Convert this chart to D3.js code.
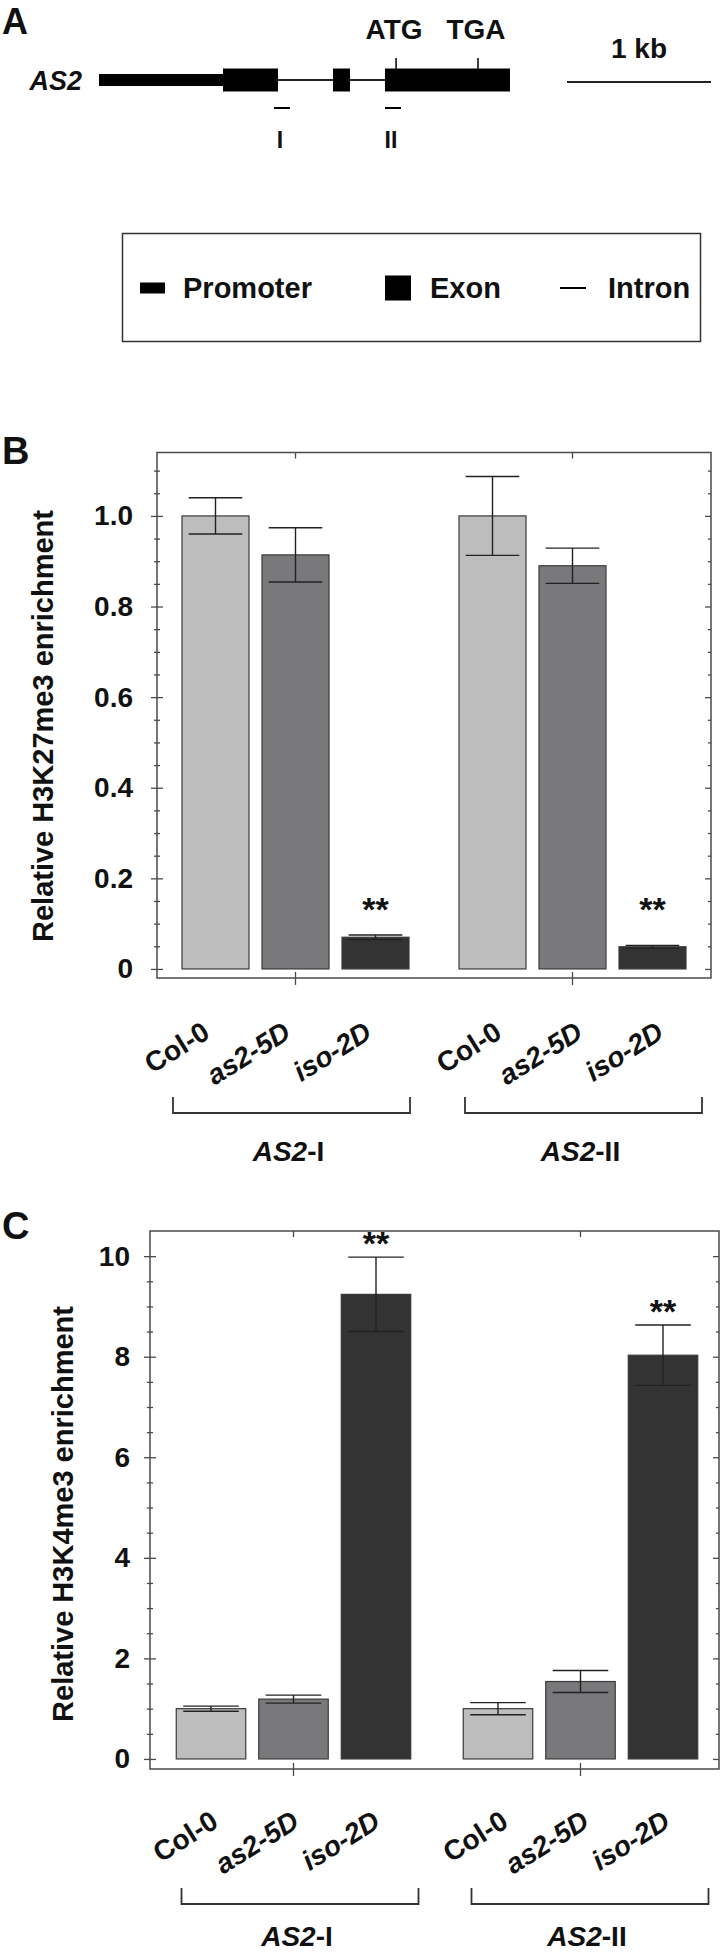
<!DOCTYPE html>
<html><head><meta charset="utf-8">
<script src="https://cdn.jsdelivr.net/npm/d3@7"></script>
<style>
html,body{margin:0;padding:0;background:#fff;}
svg{display:block;font-family:"Liberation Sans",Arial,sans-serif;}
</style></head><body>
<svg id="c" width="720" height="1953"></svg>
<script>
// ---------- data ----------
const genotypes = ["Col-0", "as2-5D", "iso-2D"];
const regions = ["I", "II"];                 // AS2-I, AS2-II
const k27Mean = [[1.00, 0.914, 0.070], [1.00, 0.890, 0.049]];
const k27Err  = [[0.040, 0.060, 0.005], [0.087, 0.039, 0.003]];
const k4Mean  = [[1.00, 1.19, 9.24], [1.00, 1.54, 8.03]];
const k4Err   = [[0.05, 0.08, 0.74], [0.12, 0.22, 0.60]];
const signif  = [[false, false, true], [false, false, true]];
const k27Ticks = [0, 0.2, 0.4, 0.6, 0.8, 1.0];
const k4Ticks  = [0, 2, 4, 6, 8, 10];
// gene model, positions in kb
const promoterKb = [[0, 0.861]];
const exonKb     = [[0.861, 1.243], [1.625, 1.743], [1.986, 2.854]];
const intronKb   = [[1.243, 1.625], [1.743, 1.986]];
const codons     = [{label: "ATG", kb: 2.063}, {label: "TGA", kb: 2.632}];
const amplicons  = [{label: "I", start: 1.215, end: 1.326}, {label: "II", start: 1.986, end: 2.097}];
const legendItems = ["Promoter", "Exon", "Intron"];

const fills = ["#bdbdbd", "#79797b", "#333333"];
const svg = d3.select("#c");
const ink = "#111";

// ---------- Panel A ----------
svg.append("text").attr("x", 2).attr("y", 34).attr("font-size", 36).attr("font-weight", "bold").attr("fill", ink).text("A");
const xg = d3.scaleLinear().domain([0, 1]).range([99, 243]);   // 1 kb
const gy = 80;
svg.append("text").attr("x", 82).attr("y", 90).attr("text-anchor", "end")
  .attr("font-size", 27).attr("font-weight", "bold").attr("font-style", "italic").attr("fill", ink).text("AS2");
svg.selectAll(".intron").data(intronKb).enter().append("line")
  .attr("x1", d => xg(d[0])).attr("x2", d => xg(d[1])).attr("y1", gy).attr("y2", gy)
  .attr("stroke", "#222").attr("stroke-width", 2);
svg.selectAll(".prom").data(promoterKb).enter().append("rect")
  .attr("x", d => xg(d[0])).attr("width", d => xg(d[1]) - xg(d[0])).attr("y", gy - 6).attr("height", 12).attr("fill", "#000");
svg.selectAll(".exon").data(exonKb).enter().append("rect")
  .attr("x", d => xg(d[0])).attr("width", d => xg(d[1]) - xg(d[0])).attr("y", gy - 11.5).attr("height", 23).attr("fill", "#000");
const cod = svg.selectAll(".cod").data(codons).enter().append("g");
cod.append("line").attr("x1", d => xg(d.kb)).attr("x2", d => xg(d.kb)).attr("y1", 58).attr("y2", 69).attr("stroke", "#000").attr("stroke-width", 1.5);
cod.append("text").attr("x", d => xg(d.kb) - 2).attr("y", 39).attr("text-anchor", "middle")
  .attr("font-size", 28).attr("font-weight", "bold").attr("fill", ink).text(d => d.label);
const amp = svg.selectAll(".amp").data(amplicons).enter().append("g");
amp.append("line").attr("x1", d => xg(d.start)).attr("x2", d => xg(d.end)).attr("y1", 108).attr("y2", 108).attr("stroke", "#000").attr("stroke-width", 2);
amp.append("text").attr("x", d => (xg(d.start) + xg(d.end)) / 2 - 2).attr("y", 148).attr("text-anchor", "middle")
  .attr("font-size", 23).attr("font-weight", "bold").attr("fill", ink).text(d => d.label);
// scale bar
const xs = d3.scaleLinear().domain([0, 1]).range([567, 711]);
svg.append("line").attr("x1", xs(0)).attr("x2", xs(1)).attr("y1", 82).attr("y2", 82).attr("stroke", "#222").attr("stroke-width", 2);
svg.append("text").attr("x", (xs(0) + xs(1)) / 2).attr("y", 58).attr("text-anchor", "middle")
  .attr("font-size", 28).attr("font-weight", "bold").attr("fill", ink).text("1 kb");

// legend
svg.append("rect").attr("x", 122.5).attr("y", 233.5).attr("width", 578).attr("height", 108)
  .attr("fill", "none").attr("stroke", "#333").attr("stroke-width", 1.5);
const ly = 288;
svg.append("rect").attr("x", 140).attr("y", ly - 5.5).attr("width", 25).attr("height", 11).attr("fill", "#000");
svg.append("rect").attr("x", 385).attr("y", ly - 12.5).attr("width", 26).attr("height", 25).attr("fill", "#000");
svg.append("line").attr("x1", 560).attr("x2", 586).attr("y1", ly).attr("y2", ly).attr("stroke", "#000").attr("stroke-width", 2);
svg.selectAll(".lg").data(legendItems).enter().append("text")
  .attr("x", (d, i) => [183, 430, 608][i]).attr("y", 298)
  .attr("font-size", 29).attr("font-weight", "bold").attr("fill", ink).text(d => d);

// ---------- bar panels ----------
function panel(o) {
  const g = svg.append("g");
  const y = d3.scaleLinear().domain(o.yDomain).range([o.bottom, o.top]);
  const xG = d3.scaleBand().domain(regions).range(o.groupRange);
  const xI = d3.scaleBand().domain(genotypes).range([-o.innerHalf, o.innerHalf]).paddingInner(o.pad).paddingOuter(o.pad / 2);
  const xA = d3.scaleBand().domain(regions).range(o.annRange);
  const xL = d3.scalePoint().domain(genotypes).range([-80, 82]);
  const gc = r => xG(r) + xG.bandwidth() / 2;
  const ac = r => xA(r) + xA.bandwidth() / 2;

  // panel letter
  g.append("text").attr("x", 2).attr("y", o.letterY).attr("font-size", 38).attr("font-weight", "bold").attr("fill", ink).text(o.letter);

  const rows = [];
  regions.forEach((r, gi) => genotypes.forEach((gt, ti) =>
    rows.push({r, gi, gt, ti, m: o.means[gi][ti], e: o.errs[gi][ti], s: signif[gi][ti]})));

  // bars
  g.selectAll(".bar").data(rows).enter().append("rect")
    .attr("x", d => gc(d.r) + xI(d.gt)).attr("width", xI.bandwidth())
    .attr("y", d => y(d.m)).attr("height", d => y(0) - y(d.m))
    .attr("fill", d => fills[d.ti]).attr("stroke", "#3a3a3a").attr("stroke-width", 1.2);

  // error bars
  const cw = xI.bandwidth() * 0.8;
  const eb = g.selectAll(".eb").data(rows).enter().append("g").attr("stroke", "#222").attr("stroke-width", 1.4);
  eb.append("line").attr("x1", d => gc(d.r) + xI(d.gt) + xI.bandwidth() / 2).attr("x2", d => gc(d.r) + xI(d.gt) + xI.bandwidth() / 2)
    .attr("y1", d => y(d.m - d.e)).attr("y2", d => y(d.m + d.e));
  [1, -1].forEach(sgn => eb.append("line")
    .attr("x1", d => gc(d.r) + xI(d.gt) + xI.bandwidth() / 2 - cw / 2)
    .attr("x2", d => gc(d.r) + xI(d.gt) + xI.bandwidth() / 2 + cw / 2)
    .attr("y1", d => y(d.m + sgn * d.e)).attr("y2", d => y(d.m + sgn * d.e)));

  // significance
  g.selectAll(".sig").data(rows.filter(d => d.s)).enter().append("text")
    .attr("x", d => gc(d.r) + xI(d.gt) + xI.bandwidth() / 2).attr("y", d => o.starY(y, d))
    .attr("text-anchor", "middle").attr("font-size", 34).attr("font-weight", "bold").attr("fill", ink).text("**");

  // frame
  g.append("rect").attr("x", o.left).attr("y", o.top).attr("width", o.frameRight - o.left).attr("height", o.bottom - o.top)
    .attr("fill", "none").attr("stroke", "#4a4a4a").attr("stroke-width", 1.5);

  const minors = o.minors.filter(v => !o.majors.some(m => Math.abs(m - v) < 1e-9));
  const styleAxis = a => { a.select(".domain").remove(); a.selectAll("line").attr("stroke", "#4a4a4a").attr("stroke-width", 1.3); };
  const la = g.append("g").attr("transform", `translate(${o.left},0)`)
    .call(d3.axisLeft(y).tickValues(o.majors).tickSize(6).tickPadding(o.tickPad).tickFormat(o.fmt));
  styleAxis(la);
  la.selectAll("text").attr("font-size", 28).attr("font-weight", "bold").attr("fill", ink).attr("font-family", "Liberation Sans, Arial, sans-serif");
  styleAxis(g.append("g").attr("transform", `translate(${o.left},0)`).call(d3.axisRight(y).tickValues(o.majors).tickSize(6).tickFormat("")));
  styleAxis(g.append("g").attr("transform", `translate(${o.left},0)`).call(d3.axisLeft(y).tickValues(minors).tickSize(3).tickFormat("")));
  styleAxis(g.append("g").attr("transform", `translate(${o.left},0)`).call(d3.axisRight(y).tickValues(minors).tickSize(3).tickFormat("")));
  styleAxis(g.append("g").attr("transform", `translate(${o.frameRight},0)`).call(d3.axisLeft(y).tickValues(o.majors).tickSize(6).tickFormat("")));
  styleAxis(g.append("g").attr("transform", `translate(${o.frameRight},0)`).call(d3.axisLeft(y).tickValues(minors).tickSize(3).tickFormat("")));
  g.selectAll(".tt").data(regions).enter().append("line")
    .attr("x1", gc).attr("x2", gc).attr("y1", o.top).attr("y2", o.top + 6).attr("stroke", "#4a4a4a").attr("stroke-width", 1.3);
  g.selectAll(".bt").data(regions).enter().append("line")
    .attr("x1", gc).attr("x2", gc).attr("y1", o.bottom - 6).attr("y2", o.bottom + 7).attr("stroke", "#4a4a4a").attr("stroke-width", 1.3);

  // y label
  g.append("text").attr("transform", `translate(${o.ylabX},${o.ylabY}) rotate(-90)`).attr("text-anchor", "middle")
    .attr("font-size", 29).attr("font-weight", "bold").attr("fill", ink).text(o.ylab);

  // x labels
  g.selectAll(".xl").data(rows).enter().append("text")
    .attr("transform", d => `translate(${ac(d.r) + xL(d.gt)},${o.xlabY}) rotate(-32)`)
    .attr("text-anchor", "end").attr("font-size", 28).attr("font-weight", "bold")
    .attr("font-style", d => d.ti === 0 ? "normal" : "italic").attr("fill", ink).text(d => d.gt);

  // brackets
  g.selectAll(".br").data(regions).enter().append("path")
    .attr("d", r => `M${ac(r) - 118.5},${o.bracketY} V${o.bracketY + 16} H${ac(r) + 118.5} V${o.bracketY}`)
    .attr("fill", "none").attr("stroke", "#333").attr("stroke-width", 1.8);
  const gl = g.selectAll(".gl").data(regions).enter().append("text")
    .attr("x", r => ac(r) - 3).attr("y", o.glabY).attr("text-anchor", "middle")
    .attr("font-size", 28).attr("font-weight", "bold").attr("fill", ink);
  gl.append("tspan").attr("font-style", "italic").text("AS2");
  gl.append("tspan").text(r => "-" + r);
}

panel({
  letter: "B", letterY: 464,
  left: 157, frameRight: 711, top: 452.5, bottom: 978,
  yDomain: [-0.02, 1.14], majors: k27Ticks, minors: d3.range(0, 1.1001, 0.05),
  fmt: d => d === 0 ? "0" : d3.format(".1f")(d), tickPad: 18,
  means: k27Mean, errs: k27Err,
  groupRange: [157, 711], innerHalf: 120, pad: 0.1625,
  annRange: [145.5, 729.5],
  starY: (y, d) => y(0.105),
  ylab: "Relative H3K27me3 enrichment", ylabX: 53, ylabY: 726,
  xlabY: 1037, bracketY: 1097, glabY: 1161
});

panel({
  letter: "C", letterY: 1239,
  left: 150, frameRight: 719, top: 1231, bottom: 1769,
  yDomain: [-0.2, 10.5], majors: k4Ticks, minors: d3.range(0, 10.001, 0.5),
  fmt: d => String(d), tickPad: 14,
  means: k4Mean, errs: k4Err,
  groupRange: [150, 724], innerHalf: 123.75, pad: 0.1576,
  annRange: [155, 735],
  starY: (y, d) => y(d.m + d.e) - 2,
  ylab: "Relative H3K4me3 enrichment", ylabX: 73, ylabY: 1514,
  xlabY: 1826, bracketY: 1888, glabY: 1946
});
</script>
</body></html>
